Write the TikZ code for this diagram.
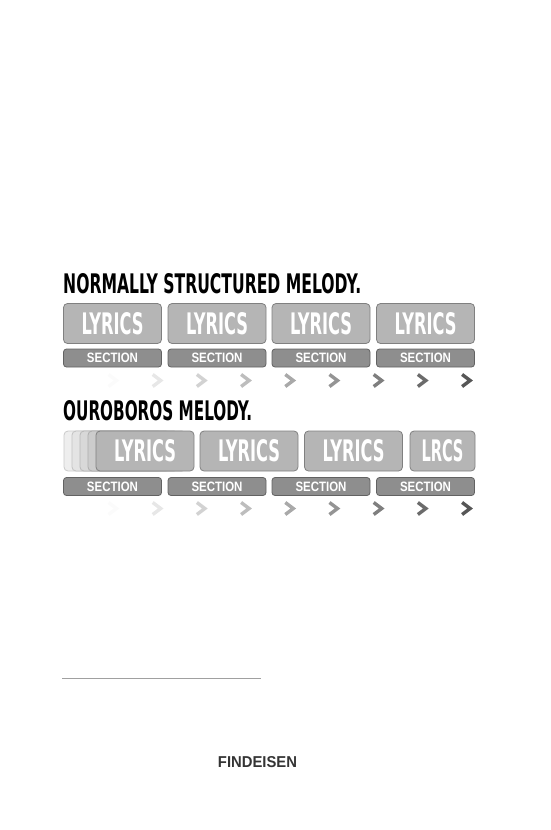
\documentclass[tikz,border=0pt]{standalone}
\usepackage{fontspec}
\usepackage{graphicx}
\usepackage{xcolor}
\usetikzlibrary{positioning}
\newfontfamily\headfont{DejaVu Sans}
\newfontfamily\labelfont{Liberation Sans}
\definecolor{boxfill}{RGB}{181,181,181}
\definecolor{boxline}{RGB}{128,128,128}
\definecolor{barfill}{RGB}{142,142,142}
\definecolor{barline}{RGB}{98,98,98}
\definecolor{ghosta}{RGB}{238,238,238}
\definecolor{ghostb}{RGB}{228,228,228}
\definecolor{ghostc}{RGB}{216,216,216}
\definecolor{ghostd}{RGB}{204,204,204}
\definecolor{ruleline}{RGB}{160,160,160}
\definecolor{brandtext}{RGB}{52,52,52}
\newcommand{\lyrtext}[2]{\resizebox{#1pt}{22pt}{\headfont\bfseries #2}}
\newcommand{\sectext}{\resizebox{51pt}{9.5pt}{\labelfont\bfseries SECTION}}
\tikzset{
  lyricsbox/.style={
    rectangle, rounded corners=4pt,
    draw=boxline, line width=0.8pt,
    fill=boxfill, text=white,
    minimum height=40pt, minimum width=98pt, inner sep=0pt
  },
  ghostbox/.style={lyricsbox, draw=#1!85!black, fill=#1},
  sectionbar/.style={
    rectangle, rounded corners=3pt,
    draw=barline, line width=0.8pt,
    fill=barfill, text=white,
    minimum height=18pt, minimum width=98pt, inner sep=0pt
  },
  headline/.style={anchor=north west, inner sep=0pt, text=black},
  chevron/.style={line width=3.4pt, line cap=butt}
}
\begin{document}
\begin{tikzpicture}[x=1pt, y=-1pt]
  \useasboundingbox (0,0) rectangle (550,830);

  % normally structured
  \node[headline] (normtitle) at (63,273)
    {\resizebox{298pt}{20pt}{\headfont\bfseries NORMALLY STRUCTURED MELODY.}};
  \node[lyricsbox] (nlyr1) at (112.5,323.5) {\lyrtext{62}{LYRICS}};
  \node[lyricsbox] (nlyr2) at (217,323.5)   {\lyrtext{62}{LYRICS}};
  \node[lyricsbox] (nlyr3) at (321,323.5)   {\lyrtext{62}{LYRICS}};
  \node[lyricsbox] (nlyr4) at (425.5,323.5) {\lyrtext{62}{LYRICS}};
  \node[sectionbar] (nsec1) at (112.5,358) {\sectext};
  \node[sectionbar] (nsec2) at (217,358)   {\sectext};
  \node[sectionbar] (nsec3) at (321,358)   {\sectext};
  \node[sectionbar] (nsec4) at (425.5,358) {\sectext};

  % ouroboros
  \node[headline] (ourotitle) at (63,400)
    {\resizebox{189pt}{20pt}{\headfont\bfseries OUROBOROS MELODY.}};
  \node[ghostbox=ghosta] (ghost1) at (113,451) {};
  \node[ghostbox=ghostb] (ghost2) at (121,451) {};
  \node[ghostbox=ghostc] (ghost3) at (129,451) {};
  \node[ghostbox=ghostd] (ghost4) at (137,451) {};
  \node[lyricsbox] (olyr1) at (145,451)   {\lyrtext{62}{LYRICS}};
  \node[lyricsbox] (olyr2) at (249,451)   {\lyrtext{62}{LYRICS}};
  \node[lyricsbox] (olyr3) at (353.5,451) {\lyrtext{62}{LYRICS}};
  \node[lyricsbox, minimum width=65pt] (olyr4) at (442.5,451) {\lyrtext{42}{LRCS}};
  \node[sectionbar] (osec1) at (112.5,486.5) {\sectext};
  \node[sectionbar] (osec2) at (217,486.5)   {\sectext};
  \node[sectionbar] (osec3) at (321,486.5)   {\sectext};
  \node[sectionbar] (osec4) at (425.5,486.5) {\sectext};

  % chevrons, fading in
  \foreach \i in {0,...,8} {
    \pgfmathsetmacro{\shade}{1.5+8.1*\i}
    \draw[chevron, black!\shade] ({108.5+44.2*\i},374.5) -- ++(8,6) -- ++(-8,6);
    \draw[chevron, black!\shade] ({108.5+44.2*\i},502.5) -- ++(8,6) -- ++(-8,6);
  }

  % footer
  \draw[ruleline, line width=1pt] (62,678) -- (261,678);
  \node[inner sep=0pt, text=brandtext] (brand) at (257.5,762.5)
    {\resizebox{79pt}{11pt}{\labelfont\bfseries FINDEISEN}};
\end{tikzpicture}
\end{document}
